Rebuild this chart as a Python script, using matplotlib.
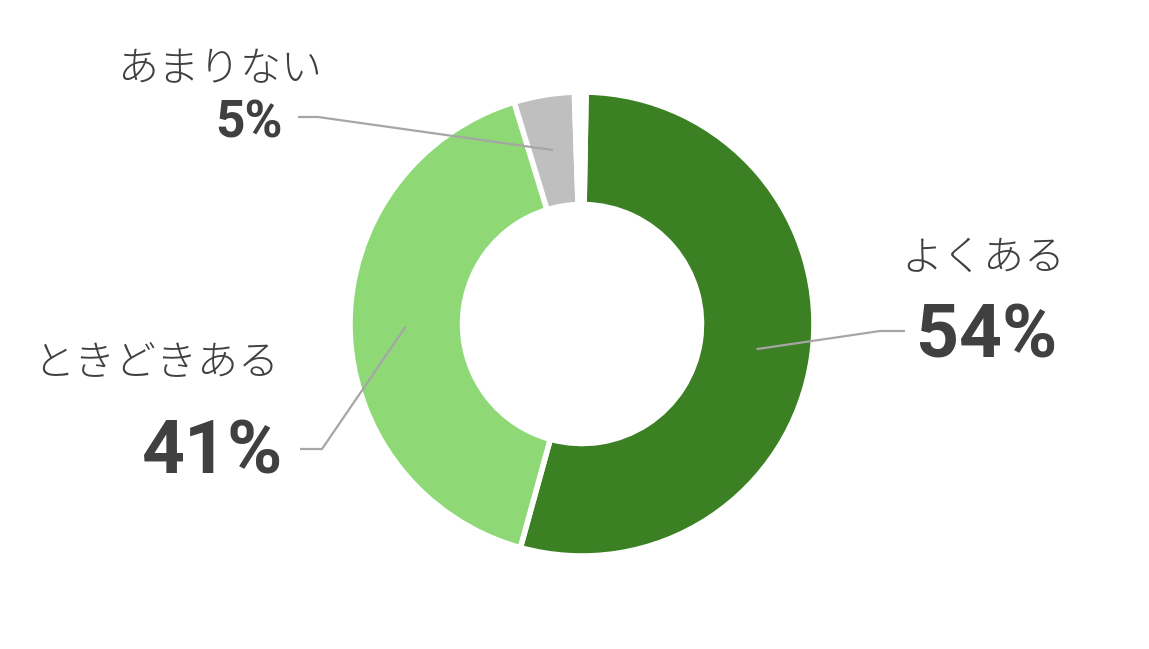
import matplotlib.pyplot as plt
import numpy as np

plt.rcParams['font.family'] = ['Noto Sans CJK JP', 'DejaVu Sans']

# data
labels = ['よくある', 'ときどきある', 'あまりない', '']
values = [54.0, 41.0, 4.2, 0.8]
pct_text = ['54%', '41%', '5%']
colors = ['#3B8023', '#8ED975', '#BFBFBF', '#FFFFFF']

txt_color = '#404040'
line_color = '#A6A6A6'

fig = plt.figure(figsize=(11.49, 6.49), dpi=100)
ax = fig.add_axes([0, 0, 1, 1])

# donut, laid out in pixel-like units
cx, cy, r = 582, 325, 232
wedges, _ = ax.pie(values, colors=colors, startangle=89, counterclock=False,
                   center=(cx, cy), radius=r,
                   wedgeprops=dict(width=r * 0.485, edgecolor='white', linewidth=4))
ax.set_xlim(0, 1149)
ax.set_ylim(0, 649)
ax.set_aspect('equal')
ax.axis('off')


def anchor(w, frac=0.76):
    mid = np.radians((w.theta1 + w.theta2) / 2)
    return cx + frac * r * np.cos(mid), cy + frac * r * np.sin(mid)


# label layout: elbow point, line end x, name pos, pct pos/align
layout = [
    dict(elbow=(880, 318), end=905, name=(983, 391), name_ha='center',
         pct=(987, 292), pct_ha='center', size=54),
    dict(elbow=(322, 200), end=300, name=(156, 286), name_ha='center',
         pct=(283, 175), pct_ha='right', size=54),
    dict(elbow=(318, 532), end=298, name=(220, 580), name_ha='center',
         pct=(283, 512), pct_ha='right', size=37),
]

for i, lay in enumerate(layout):
    ax0, ay0 = anchor(wedges[i])
    ex, ey = lay['elbow']
    ax.plot([ax0, ex, lay['end']], [ay0, ey, ey], color=line_color, lw=1.6,
            solid_capstyle='butt', zorder=3)
    ax.text(lay['name'][0], lay['name'][1], labels[i], ha=lay['name_ha'],
            va='center', fontsize=29.5, fontweight='light', color=txt_color)
    ax.text(lay['pct'][0], lay['pct'][1], pct_text[i], ha=lay['pct_ha'],
            va='baseline', fontsize=lay['size'], fontweight='bold',
            family='Roboto', color=txt_color)

fig.savefig('out.png', dpi=100, facecolor='white')
